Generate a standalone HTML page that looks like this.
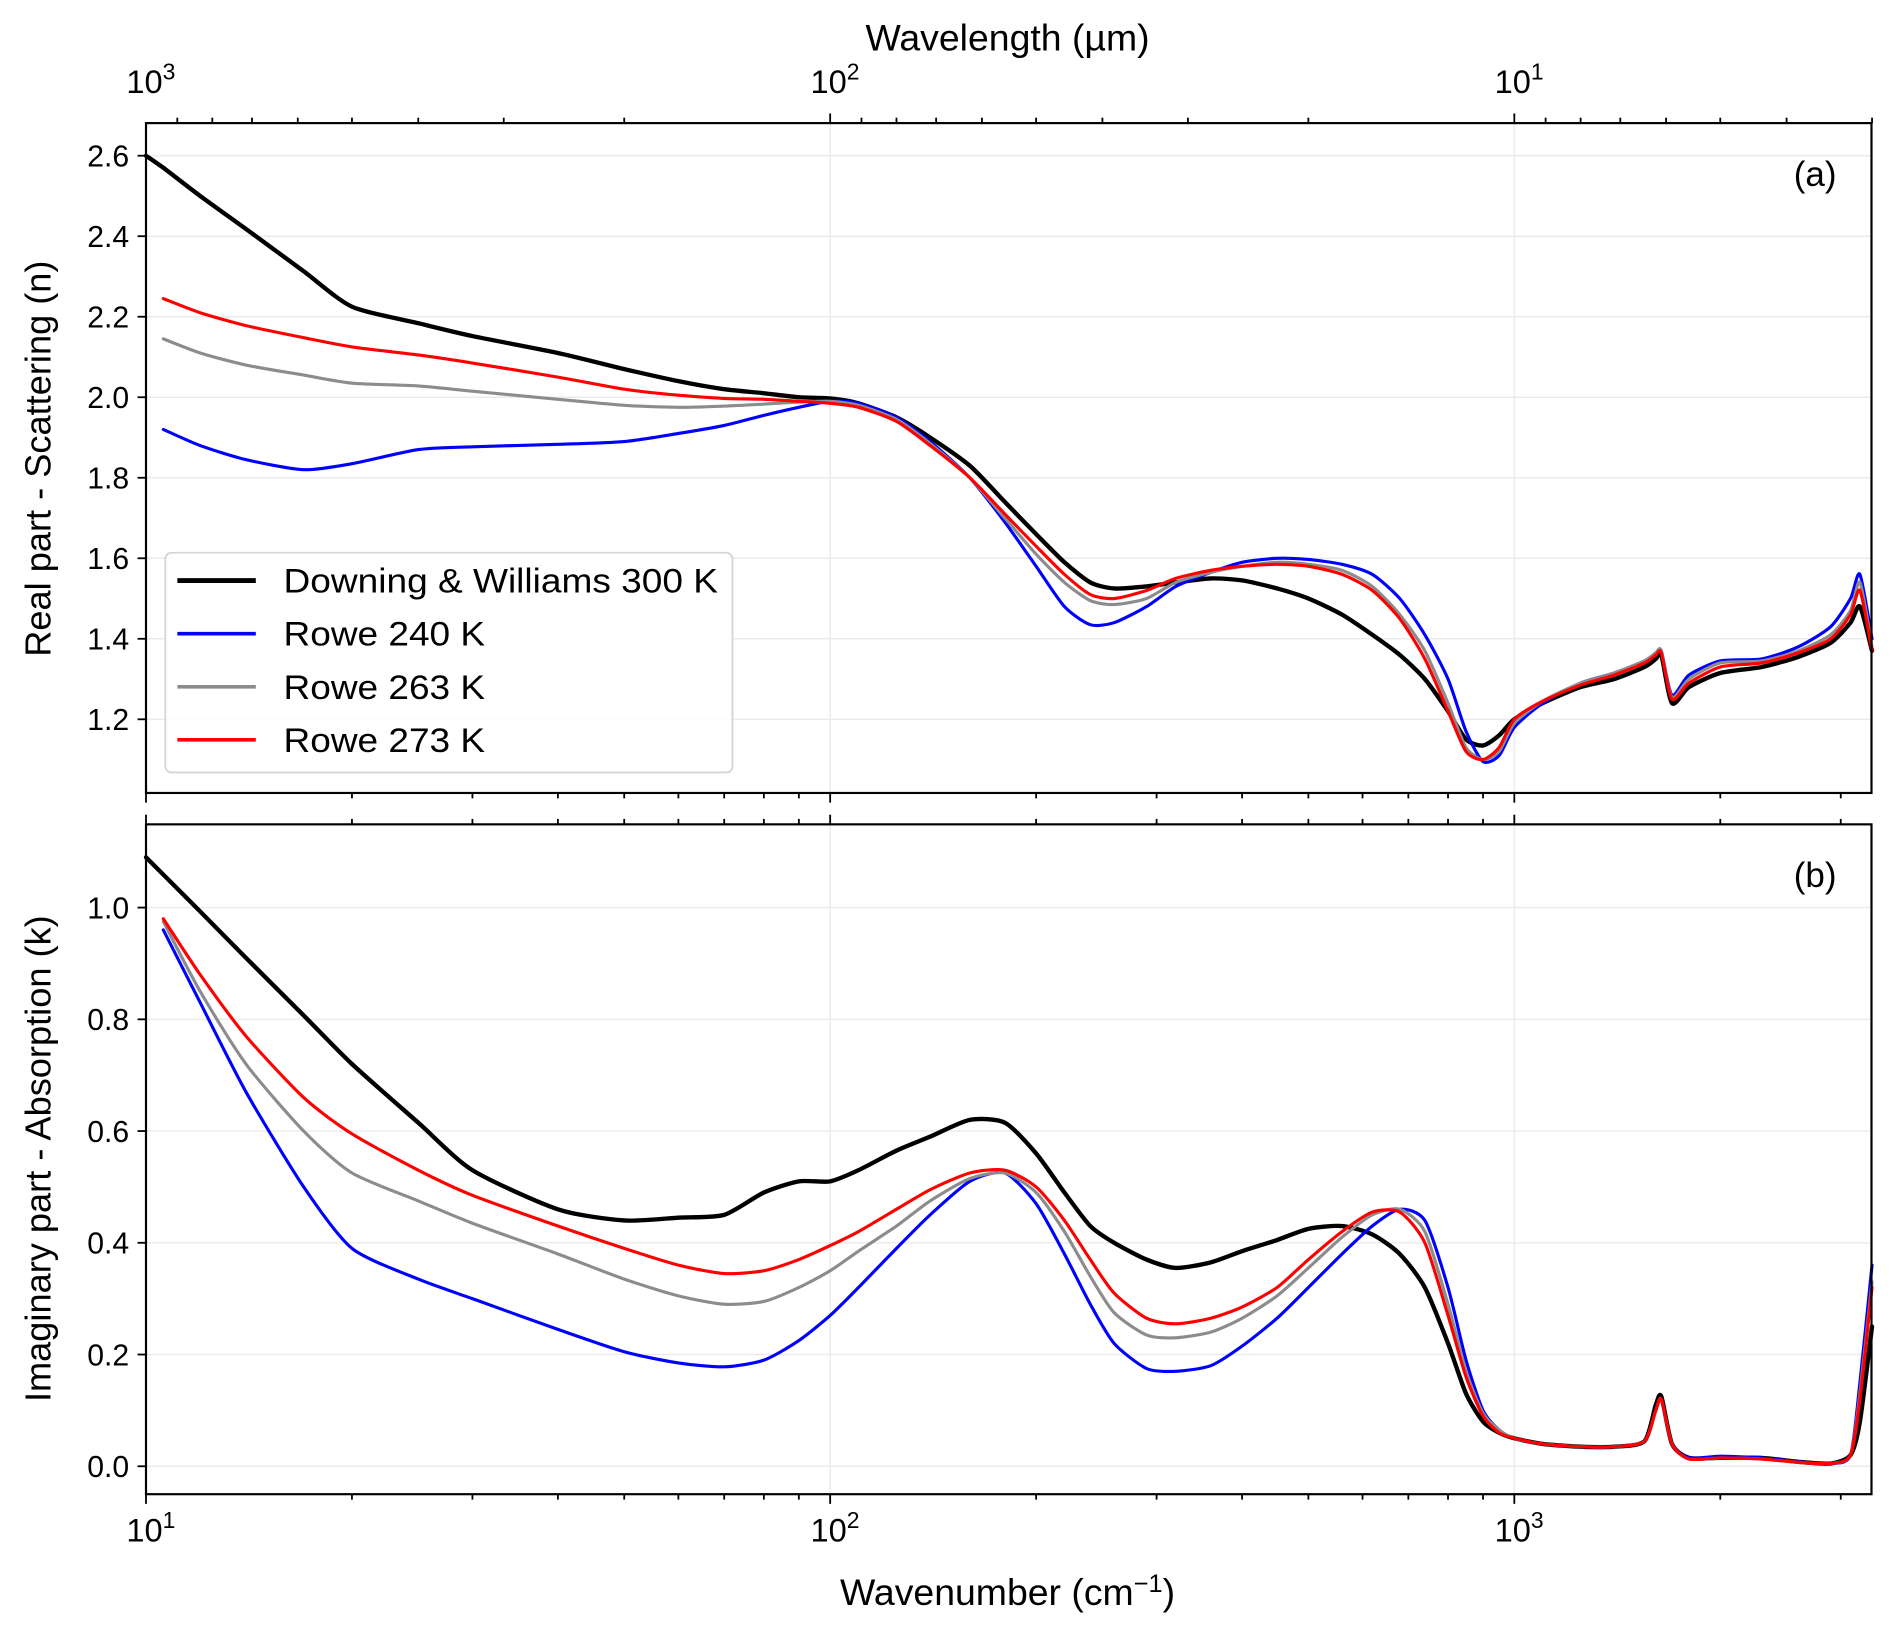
<!DOCTYPE html>
<html><head><meta charset="utf-8"><style>
html,body{margin:0;padding:0;background:#fff}
svg{display:block}
text{font-family:"Liberation Sans",sans-serif;fill:#000}
</style></head><body>
<svg id="chart" width="1892" height="1633" viewBox="0 0 1568 1353" preserveAspectRatio="none" xmlns="http://www.w3.org/2000/svg">
<g id="grid"></g>
<g id="series"></g>
<g id="axes"></g>
</svg>
<script>
const wavenumbers=[10,10.6,12,14,17,20,25,30,40,50,60,70,80,90,100,110,125,140,160,180,200,220,240,260,290,320,360,400,450,500,560,620,680,740,800,850,900,950,1000,1100,1250,1400,1550,1610,1640,1700,1800,2000,2300,2600,2900,3100,3200,3333];
const seriesNames=["Downing & Williams 300 K","Rowe 240 K","Rowe 263 K","Rowe 273 K"];
const seriesColors=["#000000","#0000ff","#8c8c8c","#ff0000"];
const nBlack=[2.60,2.57,2.50,2.418,2.313,2.225,2.184,2.152,2.11,2.07,2.04,2.02,2.01,2.0,1.997,1.985,1.95,1.9,1.83,1.74,1.66,1.59,1.54,1.525,1.53,1.54,1.55,1.545,1.525,1.50,1.46,1.41,1.36,1.30,1.22,1.15,1.135,1.16,1.2,1.24,1.28,1.30,1.33,1.35,1.36,1.24,1.28,1.315,1.33,1.355,1.39,1.44,1.48,1.37];
const nBlue=[null,1.92,1.88,1.845,1.82,1.835,1.87,1.877,1.883,1.89,1.91,1.93,1.955,1.975,1.99,1.985,1.95,1.89,1.80,1.69,1.58,1.48,1.435,1.44,1.48,1.53,1.565,1.59,1.60,1.597,1.585,1.56,1.50,1.41,1.30,1.17,1.095,1.11,1.18,1.24,1.29,1.315,1.345,1.365,1.37,1.26,1.31,1.345,1.35,1.38,1.43,1.50,1.56,1.40];
const nGray=[null,2.145,2.11,2.08,2.055,2.035,2.028,2.015,1.995,1.98,1.975,1.978,1.983,1.988,1.99,1.98,1.945,1.885,1.80,1.70,1.61,1.54,1.495,1.485,1.50,1.54,1.565,1.58,1.59,1.585,1.57,1.53,1.46,1.37,1.24,1.13,1.10,1.12,1.19,1.245,1.29,1.315,1.345,1.365,1.37,1.255,1.30,1.34,1.345,1.37,1.41,1.47,1.54,1.38];
const nRed=[null,2.245,2.21,2.178,2.148,2.125,2.105,2.085,2.05,2.02,2.005,1.997,1.995,1.99,1.985,1.975,1.94,1.88,1.80,1.71,1.63,1.56,1.51,1.50,1.52,1.55,1.57,1.58,1.585,1.58,1.56,1.52,1.45,1.35,1.22,1.12,1.10,1.13,1.2,1.245,1.285,1.31,1.34,1.36,1.365,1.25,1.29,1.33,1.34,1.365,1.40,1.46,1.52,1.37];
const kBlack=[1.09,1.059,0.993,0.91,0.807,0.72,0.615,0.53,0.46,0.44,0.445,0.45,0.49,0.51,0.51,0.53,0.565,0.59,0.62,0.615,0.56,0.49,0.43,0.40,0.37,0.355,0.365,0.385,0.405,0.425,0.43,0.415,0.38,0.32,0.22,0.13,0.08,0.06,0.05,0.04,0.035,0.035,0.045,0.11,0.125,0.04,0.015,0.015,0.015,0.008,0.005,0.02,0.08,0.25];
const kBlue=[null,0.96,0.83,0.67,0.50,0.39,0.335,0.30,0.245,0.205,0.185,0.178,0.19,0.225,0.27,0.32,0.39,0.45,0.51,0.525,0.47,0.38,0.29,0.22,0.175,0.17,0.18,0.215,0.265,0.32,0.38,0.43,0.46,0.44,0.32,0.19,0.10,0.065,0.05,0.04,0.035,0.035,0.045,0.10,0.12,0.04,0.015,0.018,0.015,0.008,0.005,0.02,0.15,0.36];
const kGray=[null,0.975,0.85,0.72,0.60,0.525,0.475,0.435,0.38,0.335,0.305,0.29,0.295,0.32,0.35,0.385,0.43,0.475,0.515,0.525,0.49,0.42,0.34,0.275,0.235,0.23,0.24,0.265,0.305,0.355,0.41,0.45,0.46,0.42,0.29,0.17,0.095,0.065,0.05,0.04,0.035,0.035,0.045,0.10,0.12,0.04,0.013,0.015,0.013,0.007,0.005,0.02,0.13,0.33];
const kRed=[null,0.98,0.88,0.77,0.66,0.595,0.53,0.485,0.43,0.39,0.36,0.345,0.35,0.37,0.395,0.42,0.46,0.495,0.525,0.53,0.50,0.44,0.37,0.31,0.265,0.255,0.265,0.285,0.32,0.37,0.42,0.455,0.455,0.40,0.27,0.16,0.09,0.06,0.05,0.04,0.035,0.035,0.045,0.10,0.12,0.04,0.013,0.015,0.013,0.007,0.005,0.02,0.12,0.32];
const nTicks=[1.2,1.4,1.6,1.8,2.0,2.2,2.4,2.6];
const kTicks=[0.0,0.2,0.4,0.6,0.8,1.0];
const decadeExps=[1,2,3];

const NS="http://www.w3.org/2000/svg";
const L=121,R=1551;
const P1={top:102,bot:657,y0:2.681,y1:1.017};
const P2={top:683,bot:1238,y0:1.149,y1:-0.05};
function xs(w){return L+567*Math.log10(w/10);}
function ys(p,v){return p.top+(p.y0-v)/(p.y0-p.y1)*(p.bot-p.top);}
function mk(tag,attrs,parent){const e=document.createElementNS(NS,tag);for(const k in attrs)e.setAttribute(k,attrs[k]);parent.appendChild(e);return e;}
const G=document.getElementById('grid'),S=document.getElementById('series'),A=document.getElementById('axes');

function path(pts){
  let d="M"+pts[0][0].toFixed(2)+","+pts[0][1].toFixed(2);
  for(let i=0;i<pts.length-1;i++){
    const p0=pts[Math.max(0,i-1)],p1=pts[i],p2=pts[i+1],p3=pts[Math.min(pts.length-1,i+2)];
    const t=0.12;
    const c1=[p1[0]+(p2[0]-p0[0])*t,p1[1]+(p2[1]-p0[1])*t];
    const c2=[p2[0]-(p3[0]-p1[0])*t,p2[1]-(p3[1]-p1[1])*t];
    d+=" C"+c1[0].toFixed(2)+","+c1[1].toFixed(2)+" "+c2[0].toFixed(2)+","+c2[1].toFixed(2)+" "+p2[0].toFixed(2)+","+p2[1].toFixed(2);
  }
  return d;
}

function panel(p,tag,ticks,data,label,title,cy){
  ticks.forEach(v=>{const l=mk('line',{x1:L,x2:R,y1:ys(p,v),y2:ys(p,v),stroke:'#ebebeb','stroke-width':1.2},G);
    
    });
  [100,1000].forEach(w=>{const l=mk('line',{x1:xs(w),x2:xs(w),y1:p.top,y2:p.bot,stroke:'#ebebeb','stroke-width':1.2},G);
    
    });
  [0,1,2,3].forEach(si=>{
    const pts=[];
    data[si].forEach((v,i)=>{if(v!==null)pts.push([xs(wavenumbers[i]),ys(p,v)]);});
    const e=mk('path',{d:path(pts),fill:'none',stroke:seriesColors[si],'stroke-width':si===0?3.6:2.6,'stroke-linejoin':'round','stroke-linecap':'round'},S);
    
    
  });
  const fr=mk('rect',{x:L,y:p.top,width:R-L,height:p.bot-p.top,fill:'none',stroke:'#000','stroke-width':1.8},A);
  
  
  ticks.forEach(v=>{
    const y=ys(p,v);
    mk('line',{x1:L-7,x2:L,y1:y,y2:y,stroke:'#000','stroke-width':1.5},A);
    const t=mk('text',{x:L-14,y:y+9,'text-anchor':'end','font-size':25},A);
    t.textContent=v.toFixed(1);
    
    
  });
  for(let d=1;d<=3;d++){for(let m=1;m<=9;m++){const w=m*Math.pow(10,d);if(w>3334)continue;const x=xs(w);
    const len=m===1?8:4.5;
    mk('line',{x1:x,x2:x,y1:p.bot,y2:p.bot+len,stroke:'#000','stroke-width':1.5},A);
    if(tag==='k')mk('line',{x1:x,x2:x,y1:p.top,y2:p.top-len,stroke:'#000','stroke-width':1.5},A);
  }}
  const lt=mk('text',{x:1522,y:p.top+52,'text-anchor':'end','font-size':29},A);
  lt.textContent=label;
  
  
  const yt=mk('text',{x:0,y:0,'text-anchor':'middle','font-size':30,transform:'translate(42,'+cy+') rotate(-90)'},A);
  yt.textContent=title;
  
  
}
panel(P1,'n',nTicks,[nBlack,nBlue,nGray,nRed],'(a)','Real part - Scattering (n)',380);
panel(P2,'k',kTicks,[kBlack,kBlue,kGray,kRed],'(b)','Imaginary part - Absorption (k)',960);

for(let d=0;d<=2;d++){for(let m=1;m<=9;m++){const lam=m*Math.pow(10,d);const w=1e4/lam;if(w<10||w>3334)continue;const x=xs(w);
  const len=m===1?8:4.5;
  mk('line',{x1:x,x2:x,y1:P1.top,y2:P1.top-len,stroke:'#000','stroke-width':1.5},A);}}
function sup(x,y,base,exp,name){
  const t=mk('text',{x:x,y:y,'text-anchor':'middle','font-size':27},A);
  const a=mk('tspan',{},t);a.textContent=base;
  const b=mk('tspan',{dy:-11,'font-size':19},t);b.textContent=exp;
  
  
}
decadeExps.forEach(e=>{sup(xs(Math.pow(10,e))+4,1277,'10',String(e),'x-tick-label-1e'+e);});
[3,2,1].forEach(e=>{sup(xs(1e4/Math.pow(10,e))+4,77,'10',String(e),'top-x-tick-label-1e'+e);});
const xt=mk('text',{x:835,y:1330,'text-anchor':'middle','font-size':31},A);
const xa=mk('tspan',{},xt);xa.textContent='Wavenumber (cm';
const xb=mk('tspan',{dy:-11,'font-size':21},xt);xb.textContent='\u22121';
const xc=mk('tspan',{dy:11},xt);xc.textContent=')';


const tt=mk('text',{x:835,y:42,'text-anchor':'middle','font-size':31},A);
tt.textContent='Wavelength (\u00b5m)';



const lg=mk('g',{},A);


mk('rect',{x:137,y:458,width:470,height:182,rx:5,fill:'#fff','fill-opacity':0.85,stroke:'#d5d5d5','stroke-width':1.5},lg);
const legendTextLen=[360,167,167,167];
seriesNames.forEach((nm,i)=>{
  const y=481+i*44;
  const en=mk('g',{},lg);
  
  
  mk('line',{x1:147,x2:212,y1:y,y2:y,stroke:seriesColors[i],'stroke-width':i===0?4:3},en);
  const t=mk('text',{x:235,y:y+10,'font-size':28.5,textLength:legendTextLen[i],lengthAdjust:'spacingAndGlyphs'},en);t.textContent=nm;
});
</script>
</body></html>
